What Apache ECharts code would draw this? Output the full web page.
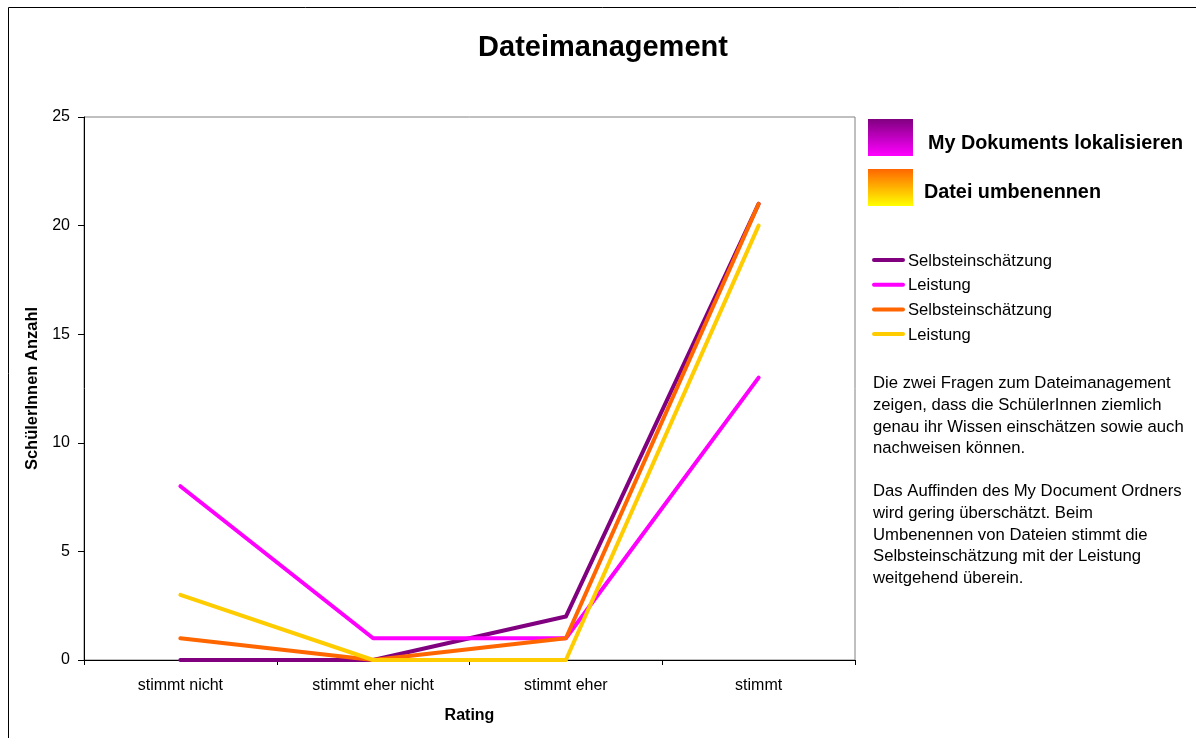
<!DOCTYPE html>
<html>
<head>
<meta charset="utf-8">
<script src="https://cdn.jsdelivr.net/npm/echarts@6/dist/echarts.min.js"></script>
<style>
  html, body { margin: 0; padding: 0; background: #ffffff; }
  #chart { width: 1196px; height: 738px; }
</style>
</head>
<body>
<div id="chart"></div>
<script>
// Answer categories on the x axis
const categories = ['stimmt nicht', 'stimmt eher nicht', 'stimmt eher', 'stimmt'];
// Y axis ticks
const yTicks = [0, 5, 10, 15, 20, 25];

// Number of students per answer
const myDocsSelf = [0, 0, 2, 21];   // My Dokuments lokalisieren – Selbsteinschätzung
const myDocsPerf = [8, 1, 1, 13];   // My Dokuments lokalisieren – Leistung
const renameSelf = [1, 0, 1, 21];   // Datei umbenennen – Selbsteinschätzung
const renamePerf = [3, 0, 0, 20];   // Datei umbenennen – Leistung

const seriesNames = ['Selbsteinschätzung', 'Leistung', 'Selbsteinschätzung', 'Leistung'];
const seriesColors = ['#800080', '#FF00FF', '#FF6600', '#FFCC00'];
const groupNames = ['My Dokuments lokalisieren', 'Datei umbenennen'];
const groupGradients = [['#800080', '#FF00FF'], ['#FF6600', '#FFFF00']];

const noteLines = [
  'Die zwei Fragen zum Dateimanagement',
  'zeigen, dass die SchülerInnen ziemlich',
  'genau ihr Wissen einschätzen sowie auch',
  'nachweisen können.',
  '',
  'Das Auffinden des My Document Ordners',
  'wird gering überschätzt. Beim',
  'Umbenennen von Dateien stimmt die',
  'Selbsteinschätzung mit der Leistung',
  'weitgehend überein.'
];

const FONT = '"Liberation Sans", Arial, sans-serif';
const chart = echarts.init(document.getElementById('chart'), null, { renderer: 'canvas' });

const seriesData = [myDocsSelf, myDocsPerf, renameSelf, renamePerf];

const graphics = [];
// outer chart frame
graphics.push({
  type: 'rect', silent: true, z: -10,
  shape: { x: 8.5, y: 7.5, width: 1400, height: 900 },
  style: { fill: '#ffffff', stroke: '#000000', lineWidth: 1 }
});
// title
graphics.push({
  type: 'text', x: 603, y: 48,
  style: { text: 'Dateimanagement', font: 'bold 29px ' + FONT, fill: '#000',
           textAlign: 'center', textVerticalAlign: 'middle' }
});
// group keys with gradient boxes
groupNames.forEach((name, i) => {
  const top = [119, 169][i];
  graphics.push({
    type: 'rect', shape: { x: 868, y: top, width: 45, height: 37 },
    style: { fill: new echarts.graphic.LinearGradient(0, 0, 0, 1, [
      { offset: 0, color: groupGradients[i][0] },
      { offset: 1, color: groupGradients[i][1] }
    ]) }
  });
  graphics.push({
    type: 'text', x: [928, 924][i], y: [144, 193][i],
    style: { text: name, font: 'bold 19.8px ' + FONT, fill: '#000', textVerticalAlign: 'middle' }
  });
});
// line keys
seriesNames.forEach((name, i) => {
  const y = 260 + i * 24.7;
  graphics.push({
    type: 'line', shape: { x1: 874, y1: y, x2: 903, y2: y },
    style: { stroke: seriesColors[i], lineWidth: 4, lineCap: 'round' }
  });
  graphics.push({
    type: 'text', x: 908, y: y + 1,
    style: { text: name, font: '16.6px ' + FONT, fill: '#000', textVerticalAlign: 'middle' }
  });
});
// commentary
graphics.push({
  type: 'text', x: 873, y: 373,
  style: { text: noteLines.join('\n'), font: '16.7px ' + FONT, fill: '#000', lineHeight: 21.6,
           textVerticalAlign: 'top' }
});

chart.setOption({
  animation: false,
  backgroundColor: '#ffffff',
  grid: {
    left: 84, top: 117, width: 771, height: 543,
    show: true, borderColor: '#808080', borderWidth: 1, backgroundColor: 'transparent'
  },
  xAxis: {
    type: 'category',
    data: categories,
    boundaryGap: true,
    name: 'Rating',
    nameLocation: 'middle',
    nameGap: 48,
    nameTextStyle: { fontFamily: FONT, fontWeight: 'bold', fontSize: 16, color: '#000' },
    axisLine: { lineStyle: { color: '#000', width: 1 } },
    axisTick: { show: true, length: 5, lineStyle: { color: '#000' } },
    axisLabel: { fontFamily: FONT, fontSize: 16, color: '#000', margin: 18 },
    splitLine: { show: false }
  },
  yAxis: {
    type: 'value',
    min: yTicks[0],
    max: yTicks[yTicks.length - 1],
    interval: yTicks[1] - yTicks[0],
    name: 'SchülerInnen Anzahl',
    nameLocation: 'middle',
    nameGap: 42,
    nameRotate: 90,
    nameTextStyle: { fontFamily: FONT, fontWeight: 'bold', fontSize: 16.5, color: '#000' },
    axisLine: { show: true, lineStyle: { color: '#000', width: 1 } },
    axisTick: { show: true, length: 6, lineStyle: { color: '#000' } },
    axisLabel: { fontFamily: FONT, fontSize: 16, color: '#000', margin: 14 },
    splitLine: { show: false }
  },
  graphic: graphics,
  series: seriesData.map((d, i) => ({
    name: seriesNames[i],
    type: 'line',
    data: d,
    symbol: 'none',
    z: 2 + i,
    lineStyle: { color: seriesColors[i], width: 4, cap: 'round', join: 'round' },
    itemStyle: { color: seriesColors[i] }
  }))
});
</script>
</body>
</html>
